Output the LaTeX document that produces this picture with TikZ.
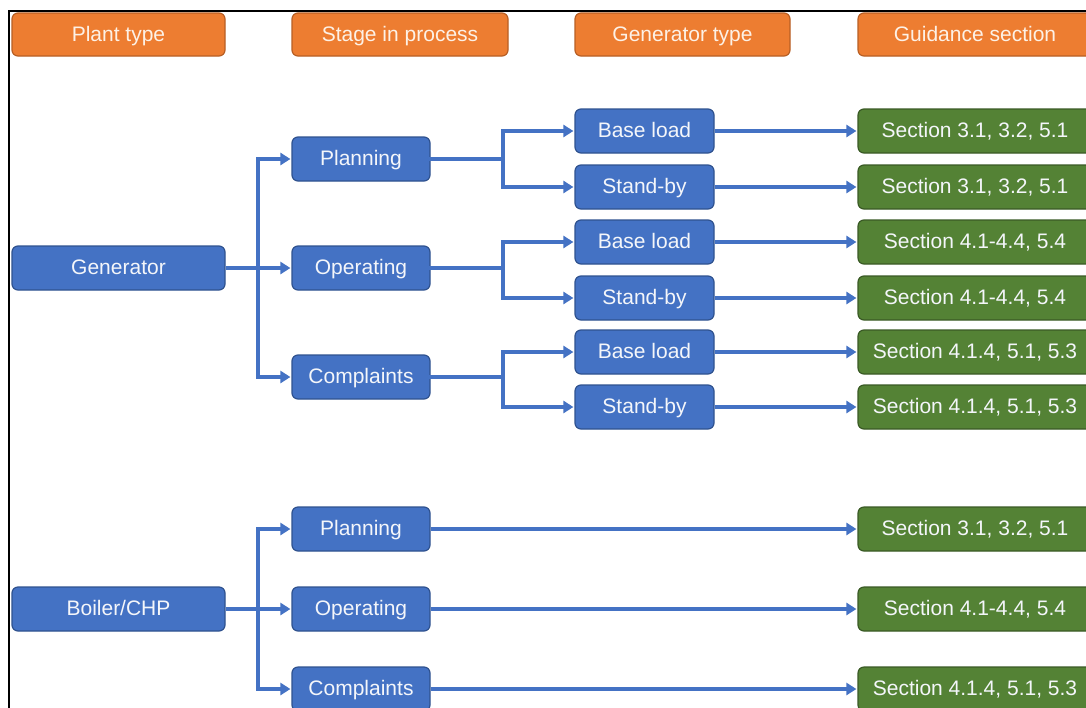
\documentclass[tikz,border=0pt]{standalone}
\usepackage{fontspec}
\setmainfont{Liberation Sans}
\usetikzlibrary{arrows.meta}
\definecolor{bfill}{HTML}{4472C4}
\definecolor{bdraw}{HTML}{2F528F}
\definecolor{ofill}{HTML}{ED7D31}
\definecolor{odraw}{HTML}{B85F24}
\definecolor{gfill}{HTML}{548235}
\definecolor{gdraw}{HTML}{3A5A25}
\definecolor{htext}{HTML}{FDF1E6}
\definecolor{wtext}{HTML}{F4F6FA}
\begin{document}
\begin{tikzpicture}[x=1pt,y=-1pt,
  box/.style={rounded corners=6pt, line width=1.2pt, font=\fontsize{21}{25}\selectfont, inner sep=0pt, minimum height=44pt, text height=15pt, text depth=2pt},
  headbox/.style={box, fill=ofill, draw=odraw, text=htext, minimum height=43pt},
  bluebox/.style={box, fill=bfill, draw=bdraw, text=wtext},
  greenbox/.style={box, fill=gfill, draw=gdraw, text=wtext, minimum width=234pt},
  wide/.style={minimum width=213pt},
  mid/.style={minimum width=138pt},
  gen/.style={minimum width=139pt},
  conn/.style={draw=bfill, line width=3.6pt, -{Triangle[length=10pt,width=12pt]}, shorten >=1pt},
  plain/.style={draw=bfill, line width=3.6pt, line cap=rect}]
\useasboundingbox (0,0) rectangle (1086,707);
\clip (0,0) rectangle (1086,707);
\fill[white] (0,0) rectangle (1086,707);

% headers
\node[headbox, wide] (h1) at (118.5,34.5) {Plant type};
\node[headbox, minimum width=216pt] (h2) at (400,34.5) {Stage in process};
\node[headbox, minimum width=215pt] (h3) at (682.5,34.5) {Generator type};
\node[headbox, minimum width=234pt] (h4) at (975,34.5) {Guidance section};

% plant types
\node[bluebox, wide] (gen) at (118.5,268) {Generator};
\node[bluebox, wide] (boil) at (118.5,609) {Boiler/CHP};

% stages
\node[bluebox, mid] (pl1) at (361,159) {Planning};
\node[bluebox, mid] (op1) at (361,268) {Operating};
\node[bluebox, mid] (co1) at (361,377) {Complaints};
\node[bluebox, mid] (pl2) at (361,529) {Planning};
\node[bluebox, mid] (op2) at (361,609) {Operating};
\node[bluebox, mid] (co2) at (361,689) {Complaints};

% generator types
\node[bluebox, gen] (b1) at (644.5,131) {Base load};
\node[bluebox, gen] (s1) at (644.5,187) {Stand-by};
\node[bluebox, gen] (b2) at (644.5,242) {Base load};
\node[bluebox, gen] (s2) at (644.5,298) {Stand-by};
\node[bluebox, gen] (b3) at (644.5,352) {Base load};
\node[bluebox, gen] (s3) at (644.5,407) {Stand-by};

% guidance
\node[greenbox] (g1) at (975,131) {Section 3.1, 3.2, 5.1};
\node[greenbox] (g2) at (975,187) {Section 3.1, 3.2, 5.1};
\node[greenbox] (g3) at (975,242) {Section 4.1-4.4, 5.4};
\node[greenbox] (g4) at (975,298) {Section 4.1-4.4, 5.4};
\node[greenbox] (g5) at (975,352) {Section 4.1.4, 5.1, 5.3};
\node[greenbox] (g6) at (975,407) {Section 4.1.4, 5.1, 5.3};
\node[greenbox] (g7) at (975,529) {Section 3.1, 3.2, 5.1};
\node[greenbox] (g8) at (975,609) {Section 4.1-4.4, 5.4};
\node[greenbox] (g9) at (975,689) {Section 4.1.4, 5.1, 5.3};

% trunks
\coordinate (t1) at (258,268);
\coordinate (t2) at (258,609);
\draw[conn] (gen.east) -- (op1.west);
\draw[conn] (t1) |- (pl1.west);
\draw[conn] (t1) |- (co1.west);
\draw[conn] (boil.east) -- (op2.west);
\draw[conn] (t2) |- (pl2.west);
\draw[conn] (t2) |- (co2.west);

% splits
\coordinate (j1) at (503,159);
\coordinate (j2) at (503,268);
\coordinate (j3) at (503,377);
\draw[plain] (pl1.east) -- (j1);
\draw[plain] (op1.east) -- (j2);
\draw[plain] (co1.east) -- (j3);
\draw[conn] (j1) |- (b1.west);
\draw[conn] (j1) |- (s1.west);
\draw[conn] (j2) |- (b2.west);
\draw[conn] (j2) |- (s2.west);
\draw[conn] (j3) |- (b3.west);
\draw[conn] (j3) |- (s3.west);

% to guidance
\draw[conn] (b1.east) -- (g1.west);
\draw[conn] (s1.east) -- (g2.west);
\draw[conn] (b2.east) -- (g3.west);
\draw[conn] (s2.east) -- (g4.west);
\draw[conn] (b3.east) -- (g5.west);
\draw[conn] (s3.east) -- (g6.west);
\draw[conn] (pl2.east) -- (g7.west);
\draw[conn] (op2.east) -- (g8.west);
\draw[conn] (co2.east) -- (g9.west);

% frame
\draw[line width=2.5pt] (9,710) -- (9,11) -- (1090,11);
\end{tikzpicture}
\end{document}
